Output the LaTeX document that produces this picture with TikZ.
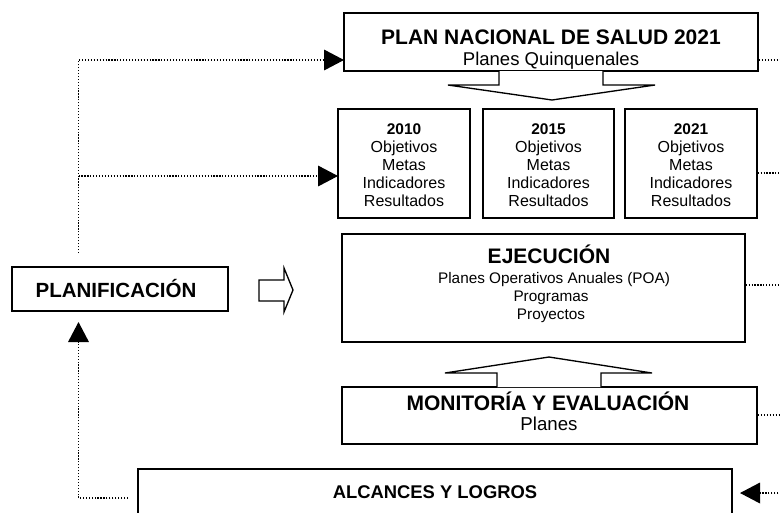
\documentclass[tikz,border=0pt]{standalone}
\usepackage{fontspec}
\setmainfont{Liberation Sans}
\usetikzlibrary{arrows.meta,fit}
\begin{document}
\begin{tikzpicture}[x=0.75pt,y=-0.75pt,
  box/.style={draw, line width=1pt, inner sep=0pt},
  boxthick/.style={draw, line width=1.5pt, inner sep=0pt},
  lbl/.style={anchor=base, inner sep=0pt},
  ftitle/.style={font=\fontsize{15.75}{18}\selectfont\bfseries},
  fyear/.style={font=\fontsize{11.6}{14}\selectfont\bfseries},
  fitem/.style={font=\fontsize{12}{14}\selectfont},
  fsub/.style={font=\fontsize{11.5}{14}\selectfont},
  dots/.style={line width=0.9pt, dash pattern=on 0.9pt off 1.3pt},
  tip/.style={-{Triangle[length=15pt,width=15.5pt]}},
  blockarrow/.style={draw, line width=1pt, fill=white, line join=miter}
]
\useasboundingbox (0,0) rectangle (780,512);
\clip (0,0) rectangle (780,512);

% boxes
\node[boxthick, fit={(344,13)(758,71)}] (plan) {};
\node[box, fit={(338,109)(470,218)}] (y2010) {};
\node[box, fit={(483,109)(614,218)}] (y2015) {};
\node[box, fit={(625,109)(757,218)}] (y2021) {};
\node[box, fit={(342,234)(745,342)}] (ejec) {};
\node[boxthick, fit={(342,387)(757,444)}] (monit) {};
\node[box, fit={(12,267)(228,311)}] (planif) {};
\node[boxthick, fit={(138,469)(732,545)}] (alc) {};

% texts
\node[lbl, ftitle] (plant) at (551,44) {PLAN NACIONAL DE SALUD 2021};
\node[lbl, font=\fontsize{13.9}{16}\selectfont] (plans) at (551,65) {Planes Quinquenales};

\foreach \nm/\cx in {2010/404, 2015/548.5, 2021/691}{
  \node[lbl, fyear] (t\nm a) at (\cx,134) {\nm};
  \node[lbl, fitem] (t\nm b) at (\cx,152) {Objetivos};
  \node[lbl, fitem] (t\nm c) at (\cx,170) {Metas};
  \node[lbl, fitem] (t\nm d) at (\cx,188) {Indicadores};
  \node[lbl, fitem] (t\nm e) at (\cx,206) {Resultados};
}

\node[lbl, ftitle] (ejt) at (549,263) {EJECUCIÓN};
\node[lbl, fsub] (ej1) at (554,283) {Planes Operativos Anuales (POA)};
\node[lbl, fsub] (ej2) at (551,301) {Programas};
\node[lbl, fsub] (ej3) at (551,319) {Proyectos};

\node[lbl, ftitle] (mot) at (548,410) {MONITORÍA Y EVALUACIÓN};
\node[lbl, font=\fontsize{14}{16}\selectfont] (mos) at (549,430) {Planes};

\node[lbl, font=\fontsize{15.4}{18}\selectfont\bfseries] (pft) at (116,297) {PLANIFICACIÓN};
\node[lbl, font=\fontsize{13.8}{16}\selectfont\bfseries] (alct) at (435,498) {ALCANCES Y LOGROS};

% block arrows
\draw[blockarrow] (499,71) -- (499,85) -- (448,85) -- (552,100) -- (655,85) -- (603,85) -- (603,71);
\draw[blockarrow] (497,387) -- (497,373) -- (445,373) -- (549,357) -- (652,373) -- (601,373) -- (601,387);
\draw[blockarrow] (259,280) -- (284,280) -- (284,268) -- (293,290) -- (284,312) -- (284,301) -- (259,301) -- cycle;

% coordinates
\coordinate (ltop) at (78.5,253);
\coordinate (lmid) at (78.5,176);
\coordinate (planIn) at (344,60);
\coordinate (yIn) at (338,176);
\coordinate (lbot) at (128,498);
\coordinate (pfIn) at (78.5,322);
\coordinate (r1) at (790,60);
\coordinate (r2) at (790,173);
\coordinate (r3) at (790,285);
\coordinate (r4) at (790,415);
\coordinate (r5) at (790,493);
\coordinate (alcIn) at (740,493);

% dotted connectors
\draw[dots, tip] (ltop) |- (planIn);
\draw[dots, tip] (lmid) -- (yIn);
\draw[dots, tip] (lbot) -| (pfIn);
\draw[dots] (plan.east |- r1) -- (r1);
\draw[dots] (y2021.east |- r2) -- (r2);
\draw[dots] (ejec.east |- r3) -- (r3);
\draw[dots] (monit.east |- r4) -- (r4);
\draw[dots, tip] (r5) -- (alcIn);
\end{tikzpicture}
\end{document}
